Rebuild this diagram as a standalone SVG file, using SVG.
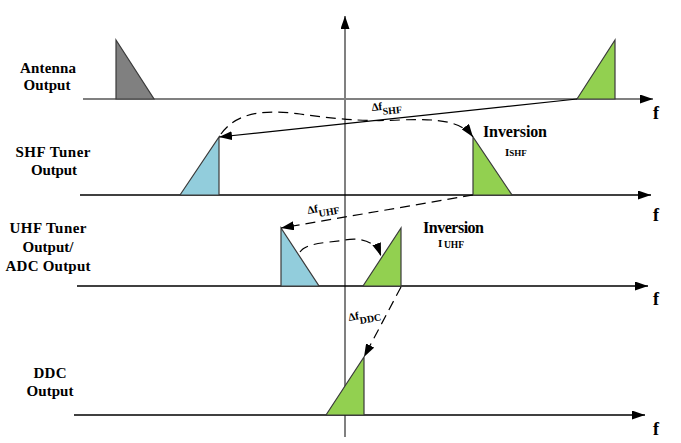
<svg xmlns="http://www.w3.org/2000/svg" width="681" height="443" viewBox="0 0 681 443">
<style>
.lbl{font-family:"Liberation Serif","Times New Roman",serif;font-weight:bold;font-size:15px;fill:#000;text-anchor:middle}
.f{font-family:"Liberation Serif","Times New Roman",serif;font-weight:bold;font-size:18px;fill:#000;text-anchor:middle}
.inv{font-family:"Liberation Serif","Times New Roman",serif;font-weight:bold;font-size:16px;fill:#000}
.sm{font-family:"Liberation Serif","Times New Roman",serif;font-weight:bold;font-size:9px;fill:#000}
.dl{font-family:"Liberation Serif","Times New Roman",serif;font-weight:bold;font-size:11px;fill:#000}
.axis{stroke:#000;stroke-width:1.5;fill:none}
.axisg{stroke:#808080;stroke-width:2;fill:none}
.tri{stroke:#3a3a3a;stroke-width:1.2;stroke-linejoin:miter}
.gray{fill:#808080}
.green{fill:#92d050}
.blue{fill:#92cddc}
.solid{stroke:#000;stroke-width:1.2;fill:none}
.dash{stroke:#000;stroke-width:1.2;fill:none;stroke-dasharray:10 6}
</style>
<defs>
<marker id="ah" markerUnits="userSpaceOnUse" markerWidth="13" markerHeight="9" refX="13" refY="4.5" orient="auto">
<path d="M0,0 L13,4.5 L0,9 z" fill="#000"/>
</marker>
</defs>

<g id="axes">
<line class="axisg" x1="345" y1="437" x2="345" y2="16" marker-end="url(#ah)"/>
<line class="axisg" x1="83" y1="99" x2="653" y2="99" marker-end="url(#ah)"/>
<line class="axis" x1="80" y1="195" x2="651" y2="195" marker-end="url(#ah)"/>
<line class="axis" x1="77" y1="286" x2="648" y2="286" marker-end="url(#ah)"/>
<line class="axis" x1="74" y1="415" x2="645" y2="415" marker-end="url(#ah)"/>
<text class="f" x="656" y="119">f</text>
<text class="f" x="656" y="221">f</text>
<text class="f" x="656" y="305">f</text>
<text class="f" x="656" y="435">f</text>
</g>

<g id="labels">
<text class="lbl" x="48" y="73" textLength="56">Antenna</text>
<text class="lbl" x="47" y="90" textLength="47">Output</text>
<text class="lbl" x="53" y="157" textLength="75">SHF Tuner</text>
<text class="lbl" x="54" y="175" textLength="46">Output</text>
<text class="lbl" x="48" y="233" textLength="77">UHF Tuner</text>
<text class="lbl" x="48" y="252" textLength="51">Output/</text>
<text class="lbl" x="48" y="271" textLength="85">ADC Output</text>
<text class="lbl" x="50" y="378" textLength="33">DDC</text>
<text class="lbl" x="50" y="396" textLength="47">Output</text>
</g>

<g id="antenna-gray">
<polygon class="tri gray" points="116,40 116,99 154,99"/>
</g>
<g id="antenna-green">
<polygon class="tri green" points="577,99 615,40 615,99"/>
</g>
<g id="shf-blue">
<polygon class="tri blue" points="180,195 219,137 219,195"/>
</g>
<g id="shf-green">
<polygon class="tri green" points="473,137 473,195 512,195"/>
<text class="inv" x="483" y="137" textLength="64">Inversion</text>
<text class="sm" x="505" y="156" style="font-size:11px">I<tspan style="font-size:9px">SHF</tspan></text>
</g>
<g id="uhf-blue">
<polygon class="tri blue" points="281,228 281,286 319,286"/>
</g>
<g id="uhf-green">
<polygon class="tri green" points="363,286 401,228 401,286"/>
<text class="inv" x="423" y="233" textLength="61">Inversion</text>
<text class="sm" x="438" y="247" style="font-size:11px">I</text>
<text class="sm" x="444" y="248" style="font-size:9.5px" textLength="20">UHF</text>
</g>
<g id="ddc-green">
<polygon class="tri green" points="326,415 364,357 364,415"/>
</g>

<g id="connectors">
<line class="solid" x1="577" y1="99" x2="219" y2="137" marker-end="url(#ah)"/>
<path class="dash" d="M221,134 C238,110 270,110 300,114 C330,118 360,122 400,120 C440,118 462,122 473,137" marker-end="url(#ah)"/>
<line class="dash" x1="473" y1="195" x2="281" y2="228" marker-end="url(#ah)"/>
<path class="dash" d="M300,252 C306,243 325,243 345,240 C362,237 376,242 381,256" marker-end="url(#ah)"/>
<line class="dash" x1="401" y1="287" x2="364" y2="357" marker-end="url(#ah)"/>
</g>

<g id="delta-labels">
<text class="dl" transform="translate(372,111) rotate(-6)">Δf<tspan style="font-size:10px" dy="5">SHF</tspan></text>
<text class="dl" transform="translate(308,214) rotate(-10)">Δf<tspan style="font-size:10px" dy="5">UHF</tspan></text>
<text class="dl" transform="translate(349,321) rotate(-10)">Δf<tspan style="font-size:10px" dy="5">DDC</tspan></text>
</g>
</svg>
